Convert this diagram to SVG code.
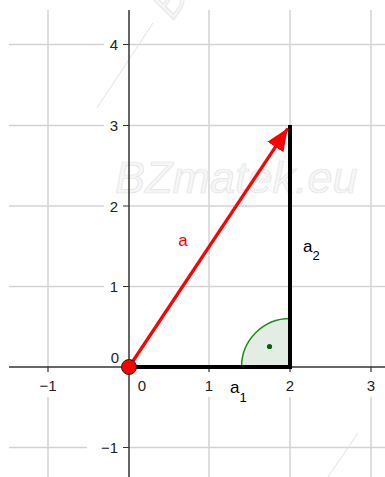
<svg xmlns="http://www.w3.org/2000/svg" width="385" height="477" viewBox="0 0 385 477">
<style>
.grid{stroke:#d3d3d3;stroke-width:1.5;fill:none}
.wm{stroke:#e2e2e2;stroke-width:1;fill:none}
.wmt{font-family:"Liberation Sans",Arial,sans-serif;font-style:italic;fill:#f6f6f6;stroke:#e3e3e3;stroke-width:0.7}
.axis{stroke:#333;stroke-width:1.5;fill:none}
.tick{stroke:#333;stroke-width:1.2}
.num{font-family:"Liberation Sans",Arial,sans-serif;font-size:15px;fill:#222}
.lbl{font-family:"Liberation Sans",Arial,sans-serif;font-size:17px;fill:#000}
.sub{font-size:13px}
.seg{stroke:#000;stroke-width:4;stroke-linecap:butt;fill:none}
</style>
<defs>
<marker id="ah" markerWidth="8" markerHeight="6" refX="7" refY="3" orient="auto" markerUnits="strokeWidth">
<path d="M0,0 L7,3 L0,6 Z" fill="#ff0000"/>
</marker>
</defs>
<rect width="385" height="477" fill="#fff"/>
<g id="grid">
<path class="grid" d="M9,44.5H104M129,44.5H385M9,125.5H104M129,125.5H385M9,206H104M129,206H385M9,286.5H104M129,286.5H385M9,447.5H87M129,447.5H385"/>
<path class="grid" d="M48,10V367M48,397V477M209,10V367M209,397V477M290,10V367M290,397V477M371,10V367M371,397V477"/>
</g>
<g id="watermark">
<text class="wmt" x="115" y="193" font-size="45">BZmatek.eu</text>
<text class="wmt" transform="translate(173,21) rotate(-56.6)" font-size="44">B</text>
<path class="wm" d="M97,108L153,23M328,477L358,433"/>
</g>
<g id="axes">
<path class="axis" d="M9,367H385"/>
<path class="axis" d="M129,10V477"/>
<path class="tick" d="M123,44.5H129M123,125.5H129M123,206H129M123,286.5H129M123,447.5H129M48,367V372M209,367V372M290,367V372M371,367V372"/>
</g>
<g id="axis-labels">
<text class="num" x="118" y="50" text-anchor="end">4</text>
<text class="num" x="118" y="131" text-anchor="end">3</text>
<text class="num" x="118" y="211.5" text-anchor="end">2</text>
<text class="num" x="118" y="292" text-anchor="end">1</text>
<text class="num" x="119" y="363" text-anchor="end">0</text>
<text class="num" x="118" y="453" text-anchor="end">−1</text>
<text class="num" x="48" y="391" text-anchor="middle">−1</text>
<text class="num" x="142" y="391" text-anchor="middle">0</text>
<text class="num" x="209" y="391" text-anchor="middle">1</text>
<text class="num" x="290" y="391" text-anchor="middle">2</text>
<text class="num" x="371" y="391" text-anchor="middle">3</text>
</g>
<g id="angle">
<path d="M241.5,367A48.5,48.5 0 0 1 290,318.5V367Z" fill="#e4ede4" stroke="none"/>
<path d="M241.5,367A48.5,48.5 0 0 1 290,318.5" fill="none" stroke="#1f8a1f" stroke-width="1.5"/>
<circle cx="269.5" cy="346.5" r="2.6" fill="#006400"/>
</g>
<g id="connectors">
<path id="a1" class="seg" d="M129,367H290"/>
<path id="a2" class="seg" d="M290,369V125"/>
<path id="vector-a" d="M129,367L287.8,128.3" stroke="#ff0000" stroke-width="3.2" fill="none" marker-end="url(#ah)"/>
</g>
<g id="origin">
<circle cx="129" cy="367" r="7.5" fill="#ff0000" stroke="#222" stroke-width="1"/>
</g>
<g id="labels">
<text class="lbl" x="183" y="246" text-anchor="middle" style="fill:#ff0000">a</text>
<text class="lbl" x="303" y="252">a<tspan class="sub" dy="8">2</tspan></text>
<text class="lbl" x="230" y="393">a<tspan class="sub" dy="9">1</tspan></text>
</g>
</svg>
